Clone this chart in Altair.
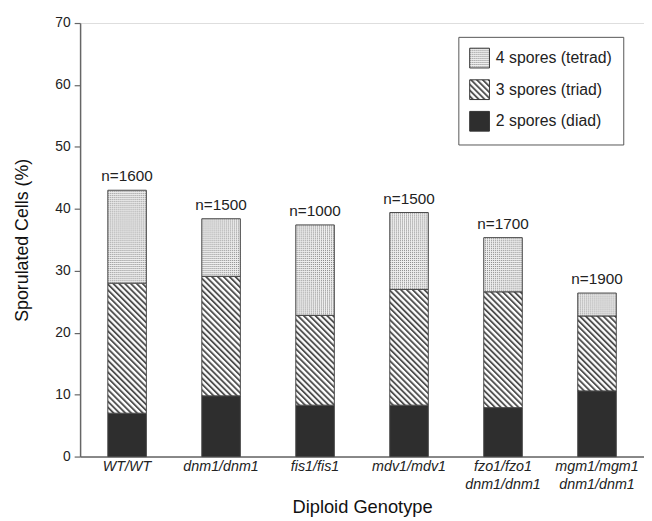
import altair as alt
import pandas as pd
from altair.utils import html as alt_html

# ---------------- data ----------------
genotypes = ["WT/WT", "dnm1/dnm1", "fis1/fis1", "mdv1/mdv1",
             "fzo1/fzo1|dnm1/dnm1", "mgm1/mgm1|dnm1/dnm1"]
diad = [7.0, 9.8, 8.3, 8.3, 7.9, 10.6]
triad = [21.0, 19.3, 14.5, 18.7, 18.7, 12.1]
tetrad = [15.0, 9.3, 14.6, 12.4, 8.75, 3.7]
n_labels = ["n=1600", "n=1500", "n=1000", "n=1500", "n=1700", "n=1900"]
categories = ["4 spores (tetrad)", "3 spores (triad)", "2 spores (diad)"]
y_ticks = [0, 10, 20, 30, 40, 50, 60, 70]

rows = []
for i, g in enumerate(genotypes):
    rows.append({"genotype": g, "category": categories[2], "value": diad[i], "rank": 0})
    rows.append({"genotype": g, "category": categories[1], "value": triad[i], "rank": 1})
    rows.append({"genotype": g, "category": categories[0], "value": tetrad[i], "rank": 2})
df = pd.DataFrame(rows)

tdf = pd.DataFrame({
    "genotype": genotypes,
    "total": [diad[i] + triad[i] + tetrad[i] for i in range(len(genotypes))],
    "n": n_labels,
})

FONT = "Liberation Sans"

x_enc = alt.X(
    "genotype:N", sort=genotypes,
    scale=alt.Scale(paddingInner=0.59, paddingOuter=0.295),
    axis=alt.Axis(
        title="Diploid Genotype", labelAngle=0,
        labelExpr="split(datum.label, '|')",
        labelFontStyle="italic", labelFontSize=14.5, labelLineHeight=18,
        labelPadding=3, ticks=False, labelColor="#222",
        titleFontSize=18.5, titleFontWeight="normal", titlePadding=7,
        titleColor="#111", domainColor="#666", domainWidth=1.5,
    ),
)

bars = alt.Chart(df).mark_bar(stroke="#444", strokeWidth=1).encode(
    x=x_enc,
    y=alt.Y(
        "value:Q", stack="zero",
        scale=alt.Scale(domain=[0, 70], nice=False),
        axis=alt.Axis(
            title="Sporulated Cells (%)", values=y_ticks, grid=False,
            labelFontSize=14, labelColor="#222", labelPadding=4,
            tickSize=6, tickColor="#666", tickWidth=1.2,
            titleFontSize=18, titleFontWeight="normal", titlePadding=24,
            titleColor="#111", domainColor="#666", domainWidth=1.5,
        ),
    ),
    color=alt.Color(
        "category:N",
        scale=alt.Scale(domain=categories,
                        range=["url(#dots)", "url(#hatch)", "#2e2e2e"]),
        legend=alt.Legend(
            title=None, orient="none", legendX=383, legendY=14,
            symbolType="square", symbolSize=400,
            symbolStrokeColor="#333", symbolStrokeWidth=1,
            labelFontSize=16, labelColor="#222", labelOffset=6,
            rowPadding=7, padding=11,
            strokeColor="#555", fillColor="white",
        ),
    ),
    order=alt.Order("rank:Q", sort="ascending"),
)

text = alt.Chart(tdf).mark_text(
    baseline="bottom", dy=-6, fontSize=15.5, color="#222", font=FONT
).encode(
    x=alt.X("genotype:N", sort=genotypes),
    y=alt.Y("total:Q"),
    text="n:N",
)

chart = alt.layer(bars, text).properties(
    width=571, height=439,
    padding={"left": 5, "top": 5, "right": 0, "bottom": 0},
).configure_view(
    stroke="#666", strokeWidth=1.5
).configure(
    font=FONT
).configure_axis(
    labelFont=FONT, titleFont=FONT
).configure_legend(
    labelFont=FONT
)

# SVG fill patterns (stippled and hatched) referenced by the colour scale
PATTERN_DEFS = """
<svg width="0" height="0" style="position:absolute;left:0;top:0" aria-hidden="true">
<defs>
<pattern id="dots" patternUnits="userSpaceOnUse" width="2" height="2">
<rect width="2" height="2" fill="#efefef"/>
<rect x="0" y="0" width="1" height="1" fill="#858585"/>
</pattern>
<pattern id="hatch" patternUnits="userSpaceOnUse" width="4.2" height="4.2" patternTransform="rotate(-45)">
<rect width="4.2" height="4.2" fill="#ffffff"/>
<rect x="0" y="0" width="1.9" height="4.2" fill="#505050"/>
</pattern>
</defs>
</svg>
"""

try:
    _base_template = alt_html.TEMPLATES["standard"]

    class _PatternTemplate:
        def render(self, **kw):
            out = _base_template.render(**kw)
            if "<body>" in out:
                return out.replace("<body>", "<body>\n" + PATTERN_DEFS, 1)
            return PATTERN_DEFS + out

    alt_html.TEMPLATES["standard"] = _PatternTemplate()
except Exception:
    pass

chart.save("out.html", embed_options={"renderer": "svg", "actions": False})
